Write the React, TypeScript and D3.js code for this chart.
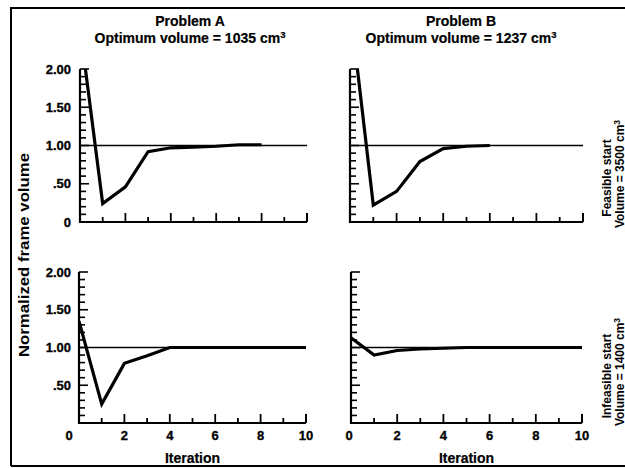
import React from 'react';
import * as d3 from 'd3';

// values (normalized frame volume per iteration)
const iterA = [0, 1, 2, 3, 4, 5, 6, 7, 8];
const feasibleA = [2.55, 0.24, 0.46, 0.92, 0.97, 0.98, 0.99, 1.01, 1.01];
const iterB = [0, 1, 2, 3, 4, 5, 6];
const feasibleB = [2.83, 0.22, 0.4, 0.79, 0.96, 0.99, 1.0];
const iterFull = [0, 1, 2, 3, 4, 5, 6, 7, 8, 9, 10];
const infeasibleA = [1.35, 0.25, 0.79, 0.89, 1.0, 1.0, 1.0, 1.0, 1.0, 1.0, 1.0];
const infeasibleB = [1.13, 0.9, 0.96, 0.98, 0.99, 1.0, 1.0, 1.0, 1.0, 1.0, 1.0];

const yTickLabels = ['0', '.50', '1.00', '1.50', '2.00'];
const yTickValues = [0, 0.5, 1, 1.5, 2];
const xTickLabels = ['0', '2', '4', '6', '8', '10'];
const xTickValues = [0, 2, 4, 6, 8, 10];

const problems = ['Problem A', 'Problem B'];
const optimum = ['1035', '1237'];
const starts = ['Feasible start', 'Infeasible start'];
const startVolume = ['3500', '1400'];

const font = "'Liberation Sans', Arial, Helvetica, sans-serif";

const panels = [
  { id: 'tl', x0: 80, x1: 307, yTop: 69, yBot: 222, xs: iterA, ys: feasibleA, yLabels: true, xLabels: false, zeroShift: 0 },
  { id: 'tr', x0: 350, x1: 583, yTop: 69, yBot: 222, xs: iterB, ys: feasibleB, yLabels: false, xLabels: false, zeroShift: 0 },
  { id: 'bl', x0: 79, x1: 306, yTop: 272, yBot: 423, xs: iterFull, ys: infeasibleA, yLabels: true, xLabels: true, zeroShift: -10 },
  { id: 'br', x0: 351, x1: 582, yTop: 272, yBot: 423, xs: iterFull, ys: infeasibleB, yLabels: false, xLabels: true, zeroShift: -2 },
];

const Panel = ({ p }: { p: typeof panels[number] }) => {
  const x = d3.scaleLinear().domain([0, 10]).range([p.x0, p.x1]);
  const y = d3.scaleLinear().domain([0, 2]).range([p.yBot, p.yTop]);
  const line = d3.line<number>().x((_, i) => x(p.xs[i])).y(d => y(d));
  const minorY = d3.range(0, 21).map(i => i / 10);
  const xTicks = d3.range(1, 11);
  const isBottom = p.id === 'bl' || p.id === 'br';

  return (
    <g>
      <defs>
        <clipPath id={'clip-' + p.id}>
          <rect x={p.x0} y={p.yTop} width={p.x1 - p.x0 + 2} height={p.yBot - p.yTop} />
        </clipPath>
      </defs>
      {/* axes */}
      <path d={`M${p.x0},${p.yTop}V${p.yBot}H${p.x1}`} fill="none" stroke="#000" strokeWidth={2.2} />
      {minorY.map(v => {
        const major = Math.abs(v * 2 - Math.round(v * 2)) < 1e-6;
        return (
          <line key={'y' + v} x1={p.x0} x2={p.x0 + (major ? 9 : 6)} y1={y(v)} y2={y(v)}
            stroke="#000" strokeWidth={1.6} />
        );
      })}
      {xTicks.map(v => (
        <line key={'x' + v} x1={x(v)} x2={x(v)} y1={p.yBot} y2={p.yBot - (v % 2 === 0 ? 9 : 5)}
          stroke="#000" strokeWidth={v === 10 ? 2 : 1.8} />
      ))}
      {/* reference at 1.00 */}
      <line x1={p.x0} x2={p.x1} y1={y(1)} y2={y(1)} stroke="#000" strokeWidth={1.5} />
      <path d={line(p.ys) || ''} fill="none" stroke="#000" strokeWidth={3.2}
        strokeLinejoin="miter" clipPath={`url(#clip-${p.id})`} />
      {p.yLabels && yTickValues.map((v, i) => (
        (isBottom && v === 0) ? null :
          <text key={'yl' + v} x={71} y={y(v)} dy="0.36em" textAnchor="end"
            fontFamily={font} fontWeight="bold" fontSize={13} stroke="#000" strokeWidth={0.3}>{yTickLabels[i]}</text>
      ))}
      {p.xLabels && xTickValues.map((v, i) => (
        <text key={'xl' + v} x={x(v) + (v === 0 ? p.zeroShift : 0)} y={440} textAnchor="middle"
          fontFamily={font} fontWeight="bold" fontSize={13} stroke="#000" strokeWidth={0.3}>{xTickLabels[i]}</text>
      ))}
      {p.xLabels && (
        <text x={(p.x0 + p.x1) / 2} y={463} textAnchor="middle" fontFamily={font}
          fontWeight="bold" fontSize={14} stroke="#000" strokeWidth={0.2}>Iteration</text>
      )}
    </g>
  );
};

const App = () => {
  const titleX = [190, 461];
  const sideY = [178, 376];
  return (
    <svg width={625} height={468} style={{ position: 'absolute', left: 0, top: 0, background: '#fff' }}>
      <rect x={0} y={0} width={625} height={468} fill="#fff" />
      {/* frame */}
      <path d="M11,466V8H640M11,466H640" fill="none" stroke="#000" strokeWidth={2} />
      {problems.map((t, i) => (
        <g key={t} fontFamily={font} fontWeight="bold" fontSize={14} textAnchor="middle"
          stroke="#000" strokeWidth={0.2}>
          <text x={titleX[i]} y={26}>{t}</text>
          <text x={titleX[i]} y={43}>
            {'Optimum volume = ' + optimum[i] + ' cm'}
            <tspan fontSize={9.5} dy={-5}>3</tspan>
          </text>
        </g>
      ))}
      {starts.map((s, i) => (
        <g key={s} fontFamily={font} fontWeight="bold" fontSize={12} textAnchor="middle">
          <text transform={`translate(611,${sideY[i]}) rotate(-90)`}>{s}</text>
          <text transform={`translate(623.5,${sideY[i] - 4}) rotate(-90)`}>
            {'Volume = ' + startVolume[i] + ' cm'}
            <tspan fontSize={8.5} dy={-4}>3</tspan>
          </text>
        </g>
      ))}
      <text transform="translate(29,255) rotate(-90)" textAnchor="middle" fontFamily={font}
        fontWeight="bold" fontSize={14} textLength={204} lengthAdjust="spacingAndGlyphs">
        Normalized frame volume
      </text>
      {panels.map(p => <Panel key={p.id} p={p} />)}
    </svg>
  );
};

export default App;
